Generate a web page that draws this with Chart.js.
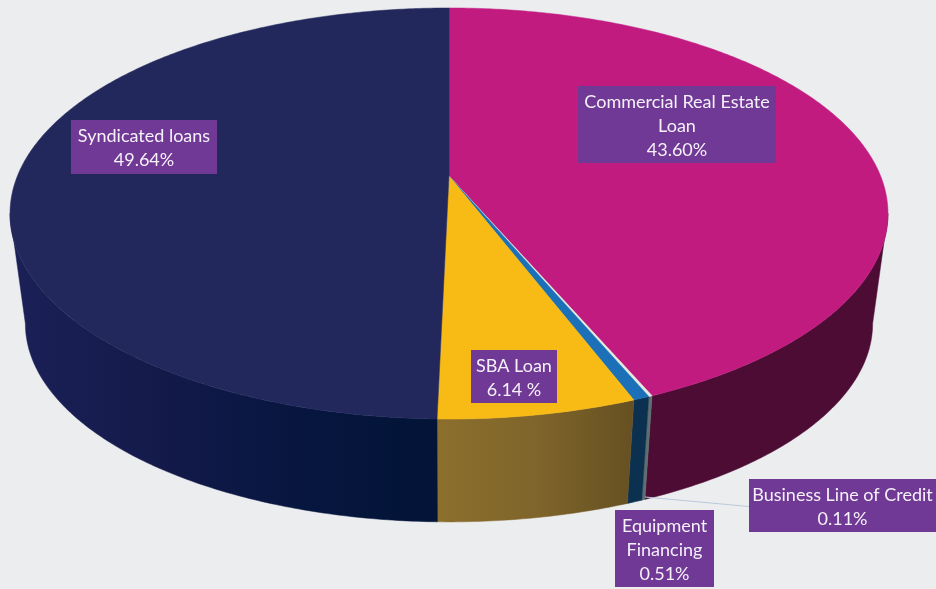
<!DOCTYPE html>
<html>
<head>
<meta charset="utf-8">
<title>Loan portfolio</title>
<script src="https://cdn.jsdelivr.net/npm/chart.js@4"></script>
<style>
  html, body { margin: 0; padding: 0; background: #ebedef; }
  canvas { display: block; }
</style>
</head>
<body>
<canvas id="pie" width="936" height="589"></canvas>
<script>
// Data, clockwise from 12 o'clock
const categories = ['Commercial Real Estate Loan', 'Business Line of Credit', 'Equipment Financing', 'SBA Loan', 'Syndicated loans'];
const shares = [43.60, 0.11, 0.51, 6.14, 49.64];
const shareLabels = ['43.60%', '0.11%', '0.51%', '6.14 %', '49.64%'];

// Slice colours
const topColors = ['#c21b80', '#e2ebdf', '#1b70b8', '#f8bb16', '#22285c'];
const wallStops = [
  ['#4c0c34', '#4c0c34'],
  ['#5f6e6e', '#5f6e6e'],
  ['#0c3050', '#0c3050'],
  ['#8c6f2d', '#7f652b', '#665022'],
  ['#1b2157', '#141a4a', '#07163f', '#021437']
];

// Data label boxes: [left, top, right, bottom, text lines]
const labelBoxes = [
  [578, 86, 776, 163, ['Commercial Real Estate', 'Loan']],
  [749, 479, 936, 532, ['Business Line of Credit']],
  [615, 510, 714, 587, ['Equipment', 'Financing']],
  [471, 350, 557, 403, ['SBA Loan']],
  [71, 120, 217, 174, ['Syndicated loans']]
];

// Perspective of the tilted disc, fitted to the picture
const persp = 0.1825;
const topFace = { x: 449, y: 176, a: 431.6, b: 198.7 };
const baseFace = { x: 449, y: 287.4, a: 416.5, b: 191.7 };

function project(face, angle) {
  const u = Math.cos(angle);
  const v = Math.sin(angle);
  const w = 1 - persp * v;
  return [face.x + face.a * u / w, face.y + face.b * v / w];
}

function arcSteps(start, end) {
  const n = Math.max(2, Math.ceil((end - start) / 0.01));
  const steps = [];
  for (let i = 0; i <= n; i++) steps.push(start + (end - start) * i / n);
  return steps;
}

// Side wall of one slice, only the part between the two silhouette points
function drawWall(ctx, start, end, stops) {
  const from = Math.max(start, Math.asin(persp));
  const to = Math.min(end, Math.PI - Math.asin(persp));
  if (to <= from) return;
  const steps = arcSteps(from, to);
  const outline = steps.map(a => project(topFace, a))
    .concat(steps.slice().reverse().map(a => project(baseFace, a)));
  const xs = outline.map(p => p[0]);
  const grad = ctx.createLinearGradient(Math.min(...xs), 0, Math.max(...xs), 0);
  stops.forEach((c, i) => grad.addColorStop(i / (stops.length - 1), c));
  ctx.beginPath();
  outline.forEach((p, i) => (i ? ctx.lineTo(p[0], p[1]) : ctx.moveTo(p[0], p[1])));
  ctx.closePath();
  ctx.fillStyle = grad;
  ctx.strokeStyle = grad;
  ctx.lineWidth = 0.5;
  ctx.fill();
  ctx.stroke();
}

function drawTop(ctx, start, end, color) {
  ctx.beginPath();
  ctx.moveTo(topFace.x, topFace.y);
  arcSteps(start, end).forEach(a => {
    const p = project(topFace, a);
    ctx.lineTo(p[0], p[1]);
  });
  ctx.closePath();
  ctx.fillStyle = color;
  ctx.strokeStyle = color;
  ctx.lineWidth = 0.5;
  ctx.fill();
  ctx.stroke();
}

// Replaces the flat arcs with the 3D disc, using the angles Chart.js computed
const disc3d = {
  id: 'disc3d',
  beforeDatasetsDraw(chart) {
    const ctx = chart.ctx;
    const arcs = chart.getDatasetMeta(0).data;
    ctx.save();
    arcs.forEach((arc, i) => drawWall(ctx, arc.startAngle, arc.endAngle, wallStops[i]));
    arcs.forEach(arc => drawTop(ctx, arc.startAngle, arc.endAngle, arc.options.backgroundColor));
    ctx.restore();
    return false;
  },
  afterDraw(chart) {
    const ctx = chart.ctx;
    ctx.save();
    // leader line for the smallest slice
    ctx.strokeStyle = '#b9c9da';
    ctx.lineWidth = 1;
    ctx.beginPath();
    ctx.moveTo(645, 497);
    ctx.lineTo(749, 506.5);
    ctx.stroke();

    ctx.font = '18px Lato, "Open Sans", sans-serif';
    ctx.textAlign = 'center';
    ctx.textBaseline = 'middle';
    labelBoxes.forEach((box, i) => {
      const lines = box[4].concat(shareLabels[i]);
      ctx.fillStyle = '#703996';
      ctx.fillRect(box[0], box[1], box[2] - box[0], box[3] - box[1]);
      ctx.fillStyle = '#f5f1f8';
      const cx = (box[0] + box[2]) / 2;
      const cy = (box[1] + box[3]) / 2 + 1.5;
      lines.forEach((line, j) => {
        ctx.fillText(line, cx, cy + (j - (lines.length - 1) / 2) * 24);
      });
    });
    ctx.restore();
  }
};

new Chart(document.getElementById('pie'), {
  type: 'pie',
  data: {
    labels: categories,
    datasets: [{ data: shares, backgroundColor: topColors, borderWidth: 0 }]
  },
  options: {
    responsive: false,
    animation: false,
    devicePixelRatio: 1,
    plugins: {
      legend: { display: false },
      tooltip: { enabled: false }
    }
  },
  plugins: [disc3d]
});
</script>
</body>
</html>
